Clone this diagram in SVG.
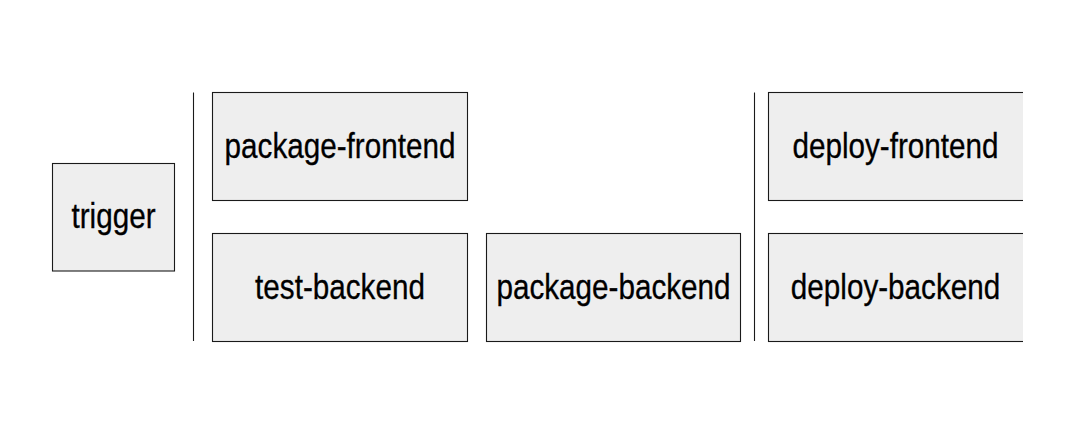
<svg xmlns="http://www.w3.org/2000/svg" width="1070" height="433" viewBox="0 0 1070 433">
<style>
.box{fill:#eeeeee;stroke:#1a1a1a;stroke-width:1.1}
.sep{stroke:#1a1a1a;stroke-width:1.1;fill:none}
.lbl{font-family:"Liberation Sans",Arial,sans-serif;font-size:34.5px;fill:#000000;stroke:#000000;stroke-width:0.3;text-anchor:middle}
</style>
<defs>
<clipPath id="clipR"><rect x="0" y="0" width="1023" height="433"/></clipPath>
</defs>
<rect x="0" y="0" width="1070" height="433" fill="#ffffff"/>
<g id="connectors">
<line class="sep" x1="193.5" y1="92.5" x2="193.5" y2="341"/>
<line class="sep" x1="754.5" y1="92.5" x2="754.5" y2="341"/>
</g>
<g id="trigger">
<rect class="box" x="52.5" y="163.5" width="122" height="107.5"/>
<text class="lbl" transform="translate(113.5,228) scale(0.86,1)">trigger</text>
</g>
<g id="package-frontend">
<rect class="box" x="212.5" y="92.5" width="255" height="108"/>
<text class="lbl" transform="translate(340,157.5) scale(0.86,1)">package-frontend</text>
</g>
<g id="test-backend">
<rect class="box" x="212.5" y="233.5" width="255" height="108"/>
<text class="lbl" transform="translate(340,298.5) scale(0.86,1)">test-backend</text>
</g>
<g id="package-backend">
<rect class="box" x="486.5" y="233.5" width="254" height="108"/>
<text class="lbl" transform="translate(613.5,298.5) scale(0.86,1)">package-backend</text>
</g>
<g id="deploy-frontend" clip-path="url(#clipR)">
<rect class="box" x="768.5" y="92.5" width="262" height="108"/>
<text class="lbl" transform="translate(895.5,157.5) scale(0.86,1)">deploy-frontend</text>
</g>
<g id="deploy-backend" clip-path="url(#clipR)">
<rect class="box" x="768.5" y="233.5" width="262" height="108"/>
<text class="lbl" transform="translate(895.5,298.5) scale(0.86,1)">deploy-backend</text>
</g>
</svg>
